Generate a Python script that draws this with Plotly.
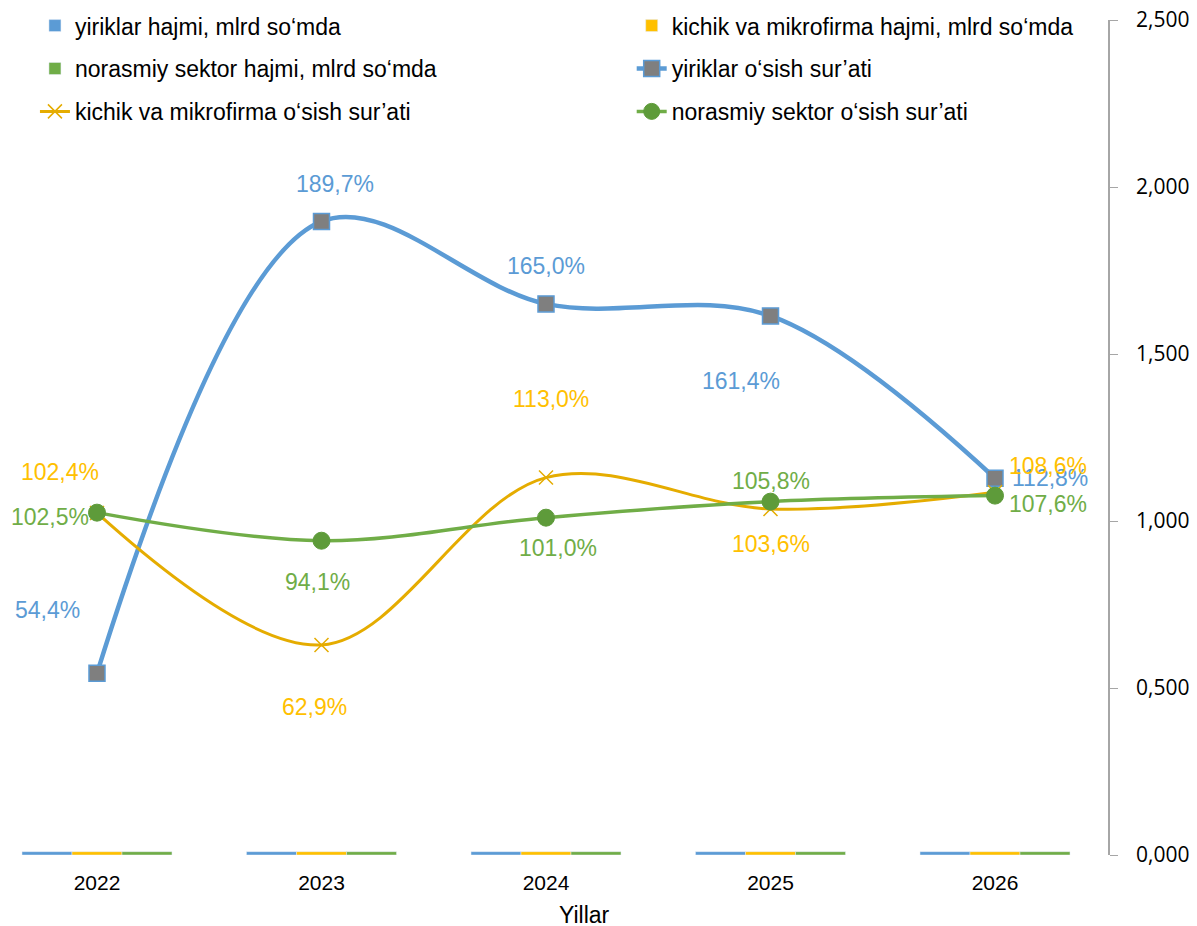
import plotly.graph_objects as go

years = [2022, 2023, 2024, 2025, 2026]

# volumes (mlrd so'mda) - rendered as near-zero bars on a hidden axis
yiriklar_hajm = [0.01, 0.01, 0.01, 0.01, 0.01]
kichik_hajm = [0.01, 0.01, 0.01, 0.01, 0.01]
norasmiy_hajm = [0.01, 0.01, 0.01, 0.01, 0.01]

# growth rates, %
yiriklar_osish = [54.4, 189.7, 165.0, 161.4, 112.8]
kichik_osish = [102.4, 62.9, 113.0, 103.6, 108.6]
norasmiy_osish = [102.5, 94.1, 101.0, 105.8, 107.6]

tick_vals = [0, 0.5, 1.0, 1.5, 2.0, 2.5]
tick_text = ["0,000", "0,500", "1,000", "1,500", "2,000", "2,500"]

BLUE = "#5B9BD5"
GOLD = "#FFC000"
GOLD_LINE = "#E5AC00"
GREEN = "#70AD47"
FONT = "Liberation Sans"

fig = go.Figure()

fig.add_trace(go.Bar(x=years, y=yiriklar_hajm, name="yiriklar hajmi, mlrd so‘mda",
                     marker_color=BLUE, yaxis="y", legend="legend", legendgroup="a"))
fig.add_trace(go.Bar(x=years, y=kichik_hajm, name="kichik va mikrofirma hajmi, mlrd so‘mda",
                     marker_color=GOLD, yaxis="y", legend="legend2", legendgroup="b"))
fig.add_trace(go.Bar(x=years, y=norasmiy_hajm, name="norasmiy sektor hajmi, mlrd so‘mda",
                     marker_color=GREEN, yaxis="y", legend="legend", legendgroup="c"))

def frac(v):
    return [x / 100 for x in v]

fig.add_trace(go.Scatter(x=years, y=frac(yiriklar_osish), name="yiriklar o‘sish sur’ati",
                         mode="lines+markers", yaxis="y2", legend="legend2", legendgroup="d",
                         line=dict(color=BLUE, width=4.5, shape="spline", smoothing=1.0),
                         marker=dict(symbol="square", size=16, color="#7F7F7F",
                                     line=dict(color=BLUE, width=1.5))))
fig.add_trace(go.Scatter(x=years, y=frac(kichik_osish), name="kichik va mikrofirma o‘sish sur’ati",
                         mode="lines+markers", yaxis="y2", legend="legend", legendgroup="e",
                         line=dict(color=GOLD_LINE, width=3, shape="spline", smoothing=1.0),
                         marker=dict(symbol="x-thin", size=14, color=GOLD_LINE,
                                     line=dict(color=GOLD_LINE, width=1.5))))
fig.add_trace(go.Scatter(x=years, y=frac(norasmiy_osish), name="norasmiy sektor o‘sish sur’ati",
                         mode="lines+markers", yaxis="y2", legend="legend2", legendgroup="f",
                         line=dict(color=GREEN, width=3.5, shape="spline", smoothing=1.0),
                         marker=dict(symbol="circle", size=17, color="#5E9B3A",
                                     line=dict(color="#5E9B3A", width=1))))

def fmt(v):
    return f"{v:.1f}%".replace(".", ",")

# label offsets in pixels (xshift, yshift)
yir_off = [(-49, 63), (13, 37), (0, 38), (-30, -65), (55, 0)]
kic_off = [(-37, 41), (-7, -62), (5, 79), (0, -35), (53, 26)]
nor_off = [(-47, -4), (-4, -41), (12, -30), (0, 21), (53, -8)]

for series, offs, col in [(yiriklar_osish, yir_off, BLUE),
                          (kichik_osish, kic_off, GOLD),
                          (norasmiy_osish, nor_off, GREEN)]:
    for x, v, (dx, dy) in zip(years, series, offs):
        fig.add_annotation(x=x, y=v / 100, yref="y2", text=fmt(v), showarrow=False,
                           xshift=dx, yshift=dy,
                           font=dict(family=FONT, size=23, color=col))

# x-axis title
fig.add_annotation(x=0.5245, y=0, xref="paper", yref="paper", yanchor="middle",
                   yshift=-60, text="Yillar", showarrow=False,
                   font=dict(family=FONT, size=23, color="#000000"))

legend_common = dict(orientation="v", yanchor="top", xanchor="left",
                     font=dict(family=FONT, size=23, color="#000000"),
                     bgcolor="rgba(0,0,0,0)", itemwidth=30, tracegroupgap=10,
                     traceorder="grouped")

fig.update_layout(
    width=1197, height=926,
    margin=dict(l=0, r=97, t=12, b=79, autoexpand=False),
    paper_bgcolor="white", plot_bgcolor="white",
    barmode="group", bargap=0.332, bargroupgap=0,
    font=dict(family=FONT, size=20, color="#000000"),
    showlegend=True,
    legend=dict(x=0.0245, y=1.019, **legend_common),
    legend2=dict(x=0.567, y=1.019, **legend_common),
    xaxis=dict(range=[2021.6036, 2026.5033], tickvals=years, ticktext=[str(y) for y in years],
               showgrid=False, zeroline=False, showline=False, ticks="",
               ticklabelstandoff=13,
               tickfont=dict(family=FONT, size=21)),
    yaxis=dict(range=[0, 2.500001], visible=False, showgrid=False),
    yaxis2=dict(range=[0, 2.500001], overlaying="y", side="right", tickvals=tick_vals,
                ticktext=tick_text, showgrid=False, zeroline=False, showline=True,
                linecolor="#A6A6A6", linewidth=1.5, ticks="outside", ticklen=8,
                tickcolor="#A6A6A6", ticklabelstandoff=14, ticklabeloverflow="allow",
                tickfont=dict(family="Open Sans", size=21, color="#000000")),
)

fig.write_html("out.html")
